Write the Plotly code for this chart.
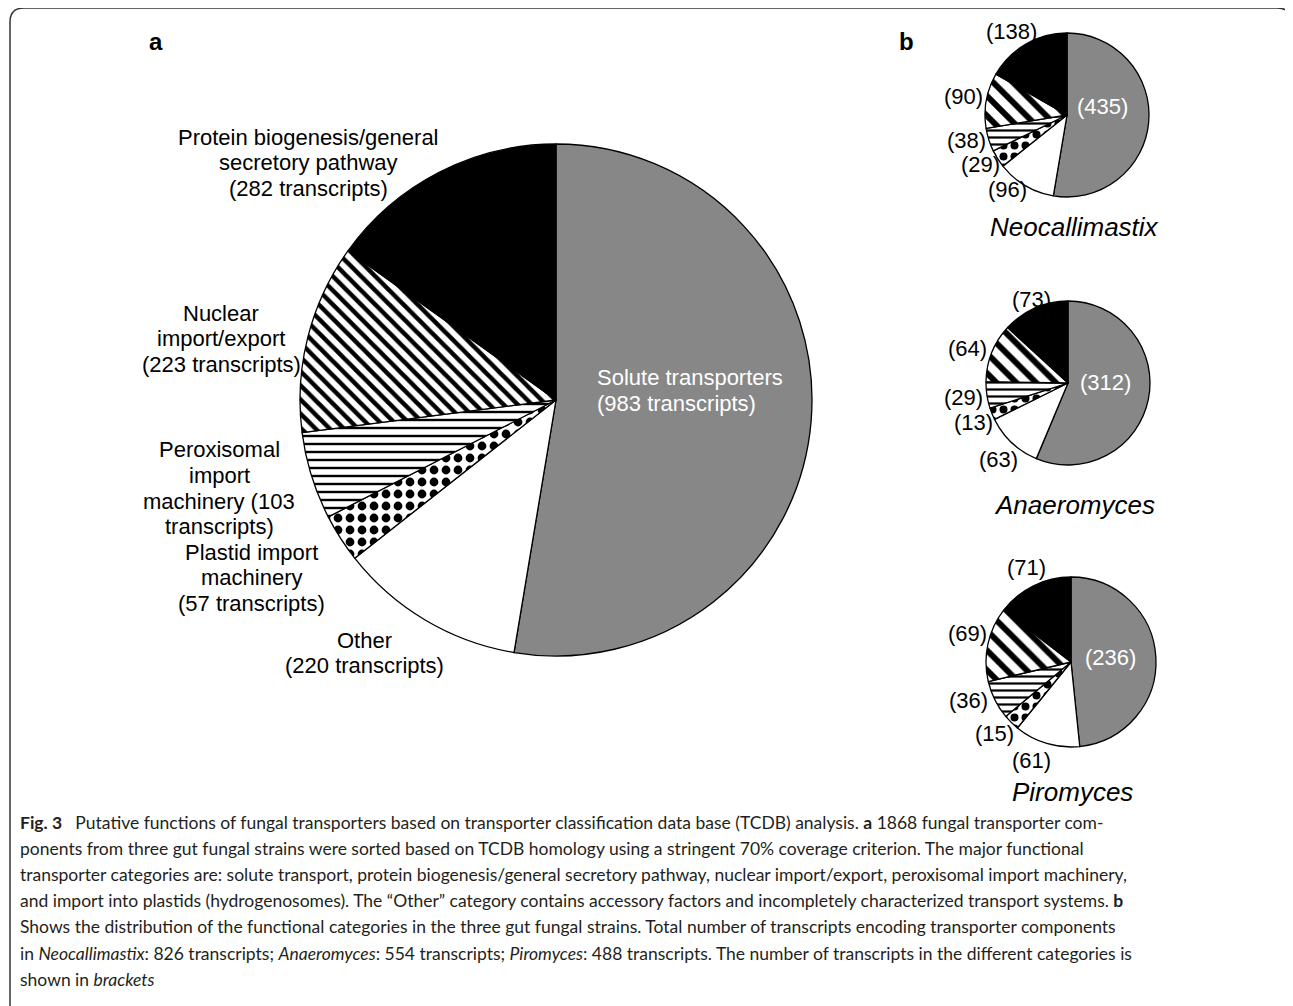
import plotly.graph_objects as go

# ---------------- data ----------------
categories = [
    "Solute transporters",
    "Other",
    "Plastid import machinery",
    "Peroxisomal import machinery",
    "Nuclear import/export",
    "Protein biogenesis/general secretory pathway",
]
all_strains = [983, 220, 57, 103, 223, 282]
neocallimastix = [435, 96, 29, 38, 90, 138]
anaeromyces = [312, 63, 13, 29, 64, 73]
piromyces = [236, 61, 15, 36, 69, 71]
species = ["Neocallimastix", "Anaeromyces", "Piromyces"]

# label lines for panel a (text only)
main_label_lines = [
    ["Solute transporters", "({} transcripts)"],
    ["Other", "({} transcripts)"],
    ["Plastid import", "machinery", "({} transcripts)"],
    ["Peroxisomal", "import", "machinery ({}", "transcripts)"],
    ["Nuclear", "import/export", "({} transcripts)"],
    ["Protein biogenesis/general", "secretory pathway", "({} transcripts)"],
]

# ---------------- styling ----------------
W, H = 1293, 1006
OFF = 8  # page body margin
fill_colors = ["#878787", "white", "white", "white", "white", "black"]
shapes = ["", "", ".", "-", "\\", ""]
FONT = "Liberation Sans, Arial, sans-serif"
CAP_FONT = "Lato, Open Sans, sans-serif"


def px(x):
    return (x - OFF) / W


def py(y):
    return 1 - (y - OFF) / H


def pie_trace(values, cx, cy, r, sizes, solidity):
    return go.Pie(
        values=values,
        labels=categories,
        sort=False,
        direction="clockwise",
        rotation=0,
        textinfo="none",
        hoverinfo="label+value",
        showlegend=False,
        domain=dict(x=[px(cx - r), px(cx + r)], y=[py(cy + r), py(cy - r)]),
        marker=dict(
            colors=fill_colors,
            line=dict(color="black", width=1.3),
            pattern=dict(
                shape=shapes,
                fgcolor="black",
                bgcolor=fill_colors,
                size=sizes,
                solidity=solidity,
                fillmode="replace",
            ),
        ),
    )


fig = go.Figure()
fig.add_trace(pie_trace(all_strains, 556, 400, 256,
                        [10, 10, 12, 8, 10, 10], [0.3, 0.3, 0.42, 0.3, 0.45, 0.3]))

small = [
    (neocallimastix, 1067, 115, 82),
    (anaeromyces, 1068, 383, 82),
    (piromyces, 1071, 662, 85),
]
for vals, cx, cy, r in small:
    fig.add_trace(pie_trace(vals, cx, cy, r,
                            [10, 10, 11, 7, 14, 10], [0.3, 0.3, 0.42, 0.32, 0.42, 0.3]))

annotations = []


def add_text(text, x, y, size=22, color="black", xanchor="center", family=FONT):
    annotations.append(dict(
        text=text, x=px(x), y=py(y), xref="paper", yref="paper",
        xanchor=xanchor, yanchor="middle", showarrow=False,
        font=dict(family=family, size=size, color=color),
    ))


# panel a labels: (x, first line y, anchor, color)
main_pos = [
    (595, 378, "left", "white"),
    (364, 640, "center", "black"),
    (251, 552, "center", "black"),
    (219, 450, "center", "black"),
    (221, 313, "center", "black"),
    (308, 137, "center", "black"),
]
for lines, val, (x, y0, anc, col) in zip(main_label_lines, all_strains, main_pos):
    for i, ln in enumerate(lines):
        add_text(ln.format(val) if "{}" in ln else ln, x, y0 + i * 25.5, size=22, color=col, xanchor=anc)

# panel b labels
small_pos = [
    [(1102, 107), (1007, 190), (980, 165), (966, 141), (964, 97), (1011, 32)],
    [(1105, 382), (999, 460), (973, 422), (964, 397), (967, 348), (1031, 300)],
    [(1110, 657), (1031, 760), (994, 733), (968, 700), (967, 633), (1026, 567)],
]
species_pos = [(1074, 227), (1074, 505), (1072, 792)]
for (vals, _, _, _), pos, sp, spos in zip(small, small_pos, species, species_pos):
    for k, (v, (x, y)) in enumerate(zip(vals, pos)):
        add_text("({})".format(v), x, y, size=22, color="white" if k == 0 else "black")
    add_text("<i>{}</i>".format(sp), spos[0], spos[1], size=26)

add_text("<b>a</b>", 156, 42, size=24)
add_text("<b>b</b>", 906, 42, size=24)

# caption
total_all = sum(all_strains)
tn, ta, tp = sum(neocallimastix), sum(anaeromyces), sum(piromyces)
caption_lines = [
    "<b>Fig. 3</b>\u2002 Putative functions of fungal transporters based on transporter classification data base (TCDB) analysis. "
    "<b>a</b> {} fungal transporter com-".format(total_all),
    "ponents from three gut fungal strains were sorted based on TCDB homology using a stringent 70% coverage criterion. The major functional",
    "transporter categories are: solute transport, protein biogenesis/general secretory pathway, nuclear import/export, peroxisomal import machinery,",
    "and import into plastids (hydrogenosomes). The \u201cOther\u201d category contains accessory factors and incompletely characterized transport systems. <b>b</b>",
    "Shows the distribution of the functional categories in the three gut fungal strains. Total number of transcripts encoding transporter components",
    "in <i>{}</i>: {} transcripts; <i>{}</i>: {} transcripts; <i>{}</i>: {} transcripts. The number of transcripts in the different categories is".format(
        species[0], tn, species[1], ta, species[2], tp),
    "shown in <i>brackets</i>",
]
for i, ln in enumerate(caption_lines):
    add_text(ln, 18, 822 + i * 26.2, size=17.5, color="#231f20", xanchor="left", family=CAP_FONT)

# rounded border
x0, y0, x1, y1, rr = 10, 8, 1291, 1030, 14
path = (
    f"M {px(x0)} {py(y0 + rr)} Q {px(x0)} {py(y0)} {px(x0 + rr)} {py(y0)} "
    f"L {px(x1 - rr)} {py(y0)} Q {px(x1)} {py(y0)} {px(x1)} {py(y0 + rr)} "
    f"L {px(x1)} {py(y1)} M {px(x0)} {py(y0 + rr)} L {px(x0)} {py(y1)}"
)

fig.update_layout(
    width=W, height=H,
    margin=dict(l=0, r=0, t=0, b=0),
    paper_bgcolor="white",
    plot_bgcolor="white",
    annotations=annotations,
    shapes=[dict(type="path", path=path, xref="paper", yref="paper",
                 line=dict(color="#333333", width=1.5))],
)

fig.write_html("out.html")
